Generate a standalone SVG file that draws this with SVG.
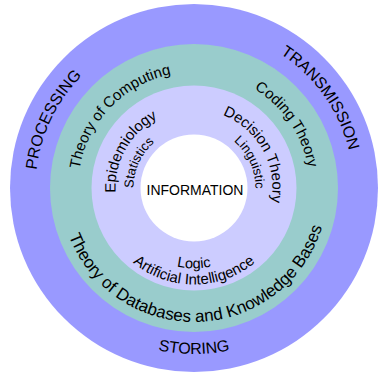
<svg xmlns="http://www.w3.org/2000/svg" xmlns:xlink="http://www.w3.org/1999/xlink" width="380" height="374" viewBox="0 0 380 374">
  <style>
    text { font-family: "Liberation Sans", Arial, sans-serif; fill: #000; }
    .ring-outer { fill: #9999ff; }
    .ring-mid { fill: #99cccc; }
    .ring-inner { fill: #ccccff; }
    .core { fill: #ffffff; }
    .t16 { font-size: 16px; }
    .t15 { font-size: 15px; }
    .t13 { font-size: 13px; }
  </style>
  <defs>
    <!-- clockwise arcs (labels on the upper half) -->
    <path id="arc-processing" d="M112.85,324.15 A158.5,158.5 0 0 1 250.28,39.83"/>
    <path id="arc-transmission" d="M113.29,50.43 A159.5,159.5 0 0 1 297.37,309.46"/>
    <path id="arc-computing" d="M106.45,264.11 A116,116 0 0 1 267.00,97.86"/>
    <path id="arc-coding" d="M137.06,86.94 A116,116 0 0 1 267.63,277.63"/>
    <path id="arc-epidemiology" d="M149.54,252.69 A78.5,78.5 0 0 1 226.55,116.56"/>
    <path id="arc-statistics" d="M164.21,240.66 A60.5,60.5 0 0 1 214.19,130.97"/>
    <path id="arc-decision" d="M161.95,116.35 A78.5,78.5 0 0 1 238.01,253.01"/>
    <path id="arc-linguistic" d="M173.47,130.03 A61.5,61.5 0 0 1 224.28,241.53"/>
    <!-- counter-clockwise arcs (labels on the lower half) -->
    <path id="arc-storing" d="M28.63,202.47 A166,166 0 0 0 359.37,202.47"/>
    <path id="arc-databases" d="M61.00,204.33 A134,134 0 0 0 327.81,195.01"/>
    <path id="arc-logic" d="M114.00,195.00 A80.3,80.3 0 0 0 274.00,195.00"/>
    <path id="arc-ai" d="M97.87,196.41 A96.5,96.5 0 0 0 290.13,196.41"/>
  </defs>

  <g id="ring-outer">
    <circle class="ring-outer" cx="194" cy="188" r="184"/>
    <text class="t16"><textPath xlink:href="#arc-processing" href="#arc-processing" startOffset="50%" text-anchor="middle">PROCESSING</textPath></text>
    <text class="t16"><textPath xlink:href="#arc-transmission" href="#arc-transmission" startOffset="50%" text-anchor="middle">TRANSMISSION</textPath></text>
    <text class="t16"><textPath xlink:href="#arc-storing" href="#arc-storing" startOffset="50%" text-anchor="middle">STORING</textPath></text>
  </g>

  <g id="ring-mid">
    <circle class="ring-mid" cx="194" cy="188" r="144"/>
    <text class="t15"><textPath xlink:href="#arc-computing" href="#arc-computing" startOffset="50%" text-anchor="middle">Theory of Computing</textPath></text>
    <text class="t15"><textPath xlink:href="#arc-coding" href="#arc-coding" startOffset="50%" text-anchor="middle">Coding Theory</textPath></text>
    <text style="font-size:17px"><textPath xlink:href="#arc-databases" href="#arc-databases" startOffset="50%" text-anchor="middle">Theory of Databases and Knowledge Bases</textPath></text>
  </g>

  <g id="ring-inner">
    <circle class="ring-inner" cx="194" cy="188" r="102.5"/>
    <text class="t15"><textPath xlink:href="#arc-epidemiology" href="#arc-epidemiology" startOffset="50%" text-anchor="middle">Epidemiology</textPath></text>
    <text class="t13"><textPath xlink:href="#arc-statistics" href="#arc-statistics" startOffset="50%" text-anchor="middle">Statistics</textPath></text>
    <text class="t15"><textPath xlink:href="#arc-decision" href="#arc-decision" startOffset="50%" text-anchor="middle">Decision Theory</textPath></text>
    <text class="t13"><textPath xlink:href="#arc-linguistic" href="#arc-linguistic" startOffset="50%" text-anchor="middle">Linguistic</textPath></text>
    <text style="font-size:14.5px"><textPath xlink:href="#arc-logic" href="#arc-logic" startOffset="50%" text-anchor="middle">Logic</textPath></text>
    <text class="t15"><textPath xlink:href="#arc-ai" href="#arc-ai" startOffset="50%" text-anchor="middle">Artificial Intelligence</textPath></text>
  </g>

  <g id="core">
    <circle class="core" cx="194" cy="188" r="53.5"/>
    <text x="195" y="195" text-anchor="middle" style="font-size:14px">INFORMATION</text>
  </g>
</svg>
